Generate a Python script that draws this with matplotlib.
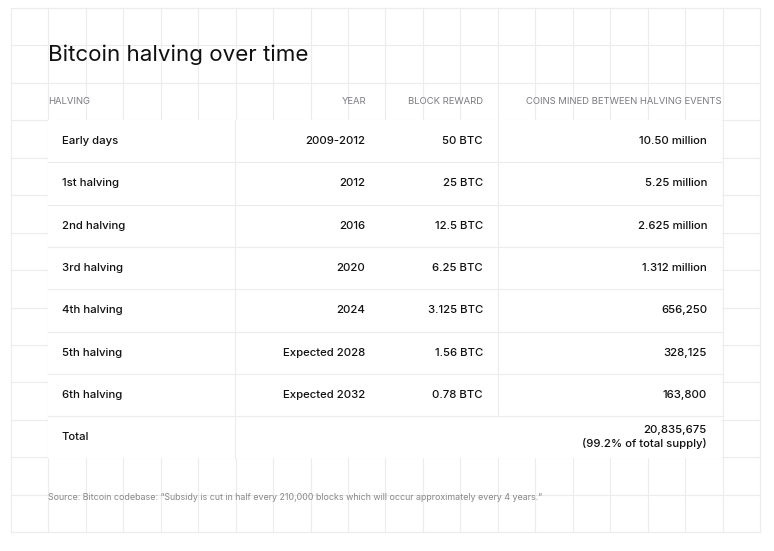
import matplotlib
matplotlib.use("Agg")
import matplotlib.pyplot as plt
from matplotlib.patches import Rectangle

title = "Bitcoin halving over time"
headers = ["HALVING", "YEAR", "BLOCK REWARD", "COINS MINED BETWEEN HALVING EVENTS"]
halvings = ["Early days", "1st halving", "2nd halving", "3rd halving", "4th halving",
            "5th halving", "6th halving", "Total"]
years = ["2009-2012", "2012", "2016", "2020", "2024", "Expected 2028", "Expected 2032", ""]
rewards = ["50 BTC", "25 BTC", "12.5 BTC", "6.25 BTC", "3.125 BTC", "1.56 BTC", "0.78 BTC", ""]
coins = ["10.50 million", "5.25 million", "2.625 million", "1.312 million", "656,250",
         "328,125", "163,800", "20,835,675\n(99.2% of total supply)"]
source = "Source: Bitcoin codebase: \u201cSubsidy is cut in half every 210,000 blocks which will occur approximately every 4 years.\u201d"

plt.rcParams['font.family'] = ['Inter', 'DejaVu Sans']
fig = plt.figure(figsize=(7.74, 5.51), dpi=100)
ax = fig.add_axes([0, 0, 1, 1])
ax.set_xlim(0, 774); ax.set_ylim(551, 0); ax.axis('off')

gc = '#ececec'
step = 37.45
x0, x1, y0, y1 = 11, 760, 8, 532
x = x0
while x <= x1 + 1:
    ax.plot([x, x], [y0, y1], color=gc, lw=0.8, zorder=1); x += step
y = y0
while y <= y1 + 1:
    ax.plot([x0, x1], [y, y], color=gc, lw=0.8, zorder=1); y += step

# card
top, rh = 120, 42.3
n = len(halvings)
ax.add_patch(Rectangle((48, top), 674, rh * n, facecolor='white', edgecolor='none', zorder=2))
for i in range(1, n):
    yy = top + i * rh
    ax.plot([48, 722], [yy, yy], color=gc, lw=0.8, zorder=3)
ax.plot([235, 235], [top, top + rh * n], color=gc, lw=0.8, zorder=3)
ax.plot([498, 498], [top, top + rh * (n - 1)], color=gc, lw=0.8, zorder=3)

ax.text(48, 55, title, fontsize=16.1, va='center', ha='left', color='#111', zorder=4)
hy = 101
hc = '#7a7a80'
ax.text(48, hy, headers[0], fontsize=6.8, color=hc, va='center', ha='left', zorder=4)
ax.text(366, hy, headers[1], fontsize=6.8, color=hc, va='center', ha='right', zorder=4)
ax.text(483, hy, headers[2], fontsize=6.8, color=hc, va='center', ha='right', zorder=4)
ax.text(722, hy, headers[3], fontsize=6.8, color=hc, va='center', ha='right', zorder=4)

for i in range(n):
    cy = top + (i + 0.5) * rh
    kw = dict(fontsize=8.2, color='#111', va='center', weight='medium', zorder=4)
    ax.text(62, cy, halvings[i], ha='left', **kw)
    ax.text(365, cy, years[i], ha='right', **kw)
    ax.text(483, cy, rewards[i], ha='right', **kw)
    ax.text(707, cy, coins[i], ha='right', multialignment='right', linespacing=1.3, **kw)

ax.text(48, 497, source, fontsize=6.4, color='#888', va='center', ha='left', zorder=4)
fig.savefig('out.png', dpi=100, facecolor='white')
